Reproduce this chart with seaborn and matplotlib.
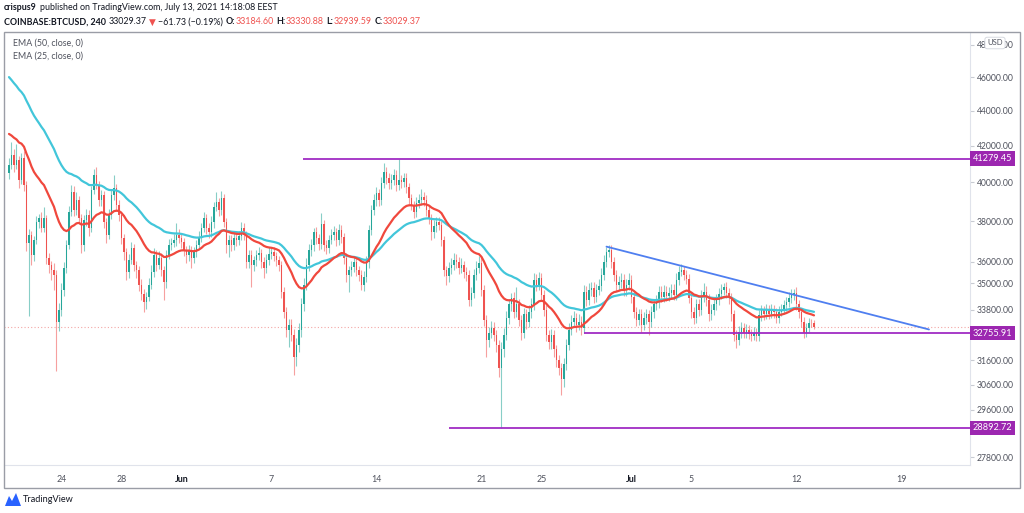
import numpy as np
import pandas as pd
import matplotlib
matplotlib.use('Agg')
import matplotlib.pyplot as plt
import matplotlib.dates as mdates
from matplotlib.ticker import FixedLocator, NullLocator, FuncFormatter
from matplotlib.patches import Rectangle, Polygon
import seaborn as sns

# COINBASE:BTCUSD 4h candles
first_candle = '2021-05-20 12:00'
first_open = 40500

closes = [
    40940, 41490, 40940,                                  # May 20
    41210, 40130, 41320, 39870, 36930, 37320,             # May 21
    36350, 37080, 37970, 38170, 37670, 38170,             # May 22
    36210, 35870, 35630, 35400, 33260, 33800,             # May 23
    34700, 35730, 36830, 38470, 39500, 38570,             # May 24
    39090, 38170, 36830, 38070, 38320, 37670,             # May 25
    39610, 40400, 39870, 39090, 39350, 37970,             # May 26
    37320, 38320, 39350, 39710, 38830, 38320,             # May 27
    37180, 36490, 35540, 36110, 36690, 35870,             # May 28
    35630, 34930, 34520, 34120, 34390, 34930,             # May 29
    35540, 36350, 35870, 36210, 35630, 35070,             # May 30
    36350, 36830, 36930, 37080, 37320, 37180,             # May 31
    36980, 36590, 36350, 36590, 36210, 36490,             # Jun 1
    36830, 37230, 37670, 38170, 37670, 37470,             # Jun 2
    37970, 38730, 38990, 38570, 39200, 37970,             # Jun 3
    36830, 37080, 36830, 37180, 37080, 37270,             # Jun 4
    37670, 37320, 36020, 36350, 35870, 36110,             # Jun 5
    36350, 36440, 36020, 35730, 36110, 36400,             # Jun 6
    36490, 36300, 36110, 35870, 34610, 33710,             # Jun 7
    32910, 33130, 32700, 31760, 32270, 32910,             # Jun 8
    34030, 34930, 35870, 36590, 36830, 37470,             # Jun 9
    37180, 36880, 37870, 36830, 36690, 37080,             # Jun 10
    37320, 37470, 37080, 37570, 37230, 36210,             # Jun 11
    35400, 35630, 35780, 36020, 35630, 35400,             # Jun 12
    34930, 35310, 36020, 37570, 38570, 39090,             # Jun 13
    39450, 39090, 39970, 40560, 40240, 39970,             # Jun 14
    40130, 40400, 39870, 40130, 40020, 40240,             # Jun 15
    39770, 39200, 38830, 38470, 38940, 39090,             # Jun 16
    39250, 39090, 38570, 38170, 37470, 37770,             # Jun 17
    37970, 37820, 37080, 35630, 35350, 35730,             # Jun 18
    35870, 36110, 36020, 35730, 35870, 35540,             # Jun 19
    35400, 34250, 34570, 35400, 35730, 35970,             # Jun 20
    34700, 33350, 32480, 32780, 33000, 32700,             # Jun 21
    32270, 31300, 32060, 32700, 33440, 34030,             # Jun 22
    34340, 33710, 34030, 33350, 32780, 33580,             # Jun 23
    33260, 33710, 34030, 35170, 34930, 35260,             # Jun 24
    34480, 33800, 32700, 32390, 32700, 32060,             # Jun 25
    31630, 31300, 30810, 31430, 32270, 32910,             # Jun 26
    33260, 33440, 33130, 33260, 33000, 34610,             # Jun 27
    34250, 34700, 34790, 34390, 34700, 34890,             # Jun 28
    35400, 36020, 36490, 36590, 36020, 35400,             # Jun 29
    34930, 35070, 35170, 34700, 34930, 35170,             # Jun 30
    34390, 33710, 33350, 33580, 33130, 33440,             # Jul 1
    33580, 33260, 33710, 34030, 34160, 34610,             # Jul 2
    34390, 34610, 34430, 34570, 34700, 34480,             # Jul 3
    35170, 35540, 35630, 35400, 35220, 34340,             # Jul 4
    33710, 33440, 34030, 33800, 34390, 34610,             # Jul 5
    34250, 33580, 33800, 34030, 34250, 34520,             # Jul 6
    34700, 34840, 34570, 34340, 33580, 32700,             # Jul 7
    32480, 32820, 33000, 32780, 32910, 32740,             # Jul 8
    32650, 32780, 32650, 33540, 33760, 33580,             # Jul 9
    33800, 33620, 33800, 33670, 33440, 33710,             # Jul 10
    33800, 33990, 34120, 34340, 34480, 34570,             # Jul 11
    34030, 33670, 33260, 32780, 33000, 33220,             # Jul 12
    33184.60, 33029.37,                                   # Jul 13
]

# wick length above / below the body, USD
upper_wicks = [
    400, 700, 300,
    900, 200, 300, 400, 200, 300,
    200, 200, 300, 200, 300, 560,
    150, 200, 200, 300, 200, 300,
    300, 250, 250, 300, 370, 300,
    400, 200, 200, 250, 300, 250,
    200, 300, 430, 200, 250, 200,
    200, 300, 250, 690, 200, 250,
    200, 200, 200, 250, 300, 200,
    200, 200, 250, 200, 200, 300,
    300, 300, 250, 300, 200, 200,
    250, 300, 250, 300, 600, 300,
    200, 200, 200, 250, 200, 250,
    250, 300, 250, 300, 200, 250,
    300, 250, 510, 200, 350, 200,
    200, 250, 250, 250, 200, 250,
    300, 250, 200, 250, 250, 200,
    250, 300, 200, 200, 250, 300,
    250, 250, 200, 200, 200, 200,
    200, 250, 250, 250, 300, 300,
    300, 300, 300, 300, 300, 200,
    250, 200, 550, 200, 250, 250,
    300, 300, 200, 300, 250, 200,
    200, 200, 250, 250, 200, 200,
    200, 250, 250, 250, 250, 300,
    300, 200, 300, 490, 250, 250,
    300, 300, 250, 1149.45, 250, 250,
    250, 200, 200, 200, 300, 300,
    400, 250, 250, 200, 200, 300,
    250, 250, 200, 200, 200, 250,
    300, 300, 250, 200, 300, 200,
    200, 200, 250, 250, 300, 300,
    250, 200, 200, 250, 300, 250,
    200, 200, 300, 300, 300, 250,
    230, 250, 810, 250, 200, 300,
    250, 300, 300, 300, 250, 280,
    200, 200, 200, 200, 250, 200,
    200, 200, 200, 250, 250, 300,
    300, 300, 200, 320, 250, 300,
    250, 300, 250, 250, 250, 300,
    300, 300, 250, 240, 250, 200,
    200, 250, 300, 250, 250, 300,
    200, 200, 200, 250, 250, 250,
    250, 200, 250, 250, 300, 250,
    250, 300, 250, 250, 250, 250,
    300, 250, 250, 200, 200, 200,
    200, 200, 250, 250, 300, 420,
    250, 250, 250, 250, 250, 250,
    250, 150, 200, 200, 200, 200,
    200, 250, 250, 200, 250, 200,
    200, 250, 200, 250, 250, 200,
    250, 200, 250, 200, 200, 250,
    250, 250, 250, 250, 250, 150,
    250, 200, 200, 200, 200, 200,
    150, 146.28,
]

lower_wicks = [
    300, 200, 400,
    200, 400, 200, 300, 400, 3430,
    500, 300, 200, 300, 200, 200,
    300, 400, 500, 700, 2120, 400,
    300, 300, 250, 200, 200, 300,
    250, 300, 400, 300, 300, 400,
    200, 200, 200, 300, 300, 300,
    400, 200, 200, 250, 300, 300,
    300, 400, 400, 300, 200, 300,
    400, 300, 300, 410, 300, 200,
    200, 250, 300, 200, 300, 820,
    300, 200, 250, 200, 300, 250,
    300, 300, 400, 300, 480, 250,
    250, 200, 250, 200, 300, 300,
    250, 300, 200, 300, 250, 250,
    400, 570, 300, 250, 300, 250,
    200, 250, 300, 300, 1030, 300,
    300, 250, 300, 470, 250, 250,
    250, 250, 300, 300, 300, 300,
    300, 760, 300, 750, 400, 300,
    300, 300, 250, 300, 300, 300,
    300, 300, 250, 300, 300, 250,
    200, 250, 300, 250, 300, 300,
    350, 790, 300, 250, 300, 300,
    250, 300, 250, 300, 250, 250,
    300, 300, 250, 250, 300, 300,
    300, 250, 300, 250, 300, 250,
    300, 300, 250, 300, 250, 250,
    250, 300, 300, 300, 400, 300,
    300, 250, 300, 300, 420, 300,
    300, 250, 300, 300, 250, 300,
    300, 300, 300, 250, 250, 250,
    300, 300, 720, 300, 250, 300,
    300, 400, 2407.28, 300, 250, 300,
    300, 300, 250, 300, 300, 250,
    300, 250, 300, 250, 300, 250,
    300, 300, 300, 300, 300, 300,
    300, 300, 610, 300, 250, 250,
    250, 250, 300, 250, 300, 250,
    300, 250, 300, 300, 250, 250,
    250, 250, 250, 250, 300, 300,
    300, 250, 300, 300, 300, 250,
    300, 300, 300, 250, 300, 250,
    300, 560, 250, 300, 250, 300,
    250, 250, 250, 250, 300, 250,
    250, 250, 200, 250, 250, 250,
    300, 300, 250, 300, 250, 250,
    300, 300, 250, 250, 250, 250,
    250, 250, 250, 300, 300, 300,
    370, 250, 250, 250, 250, 250,
    250, 200, 250, 250, 250, 250,
    200, 250, 200, 250, 250, 250,
    200, 200, 250, 200, 250, 250,
    250, 250, 250, 250, 200, 200,
    150, 89.78,
]

# EMA values at the left edge of the chart
ema50_start = 46200
ema25_start = 42800

# drawn levels and trend line
levels = [41279.45, 32755.91, 28892.72]
level_starts = ['2021-06-09 02:00', '2021-06-27 20:00', '2021-06-18 20:00']
trend_dates = ['2021-06-29 08:00', '2021-07-20 20:00']
trend_prices = [36740, 32920]
last_price = 33029.37

price_ticks = [48000, 46000, 44000, 42000, 40000, 38000, 36000, 35000,
               33800, 31600, 30600, 29600, 28800, 27800]
date_ticks = ['2021-05-24', '2021-05-28', '2021-06-01', '2021-06-07', '2021-06-14',
              '2021-06-21', '2021-06-25', '2021-07-01', '2021-07-05', '2021-07-12',
              '2021-07-19']
date_labels = ['24', '28', 'Jun', '7', '14', '21', '25', 'Jul', '5', '12', '19']

GREEN = '#26a69a'
RED = '#ef5350'
PURPLE = '#a02cc4'
DARK = '#131722'
GREY = '#50535e'

sns.set_style('white')
plt.rcParams['font.family'] = ['Lato', 'DejaVu Sans']

W, H = 1024, 513
fig = plt.figure(figsize=(W / 100, H / 100), dpi=100)
ax = fig.add_axes([4 / W, 1 - 465 / H, (970 - 4) / W, (465 - 32) / H])
ax.set_yscale('log')

t = pd.date_range(first_candle, periods=len(closes), freq='4h')
x = mdates.date2num(t)
c = np.array(closes, dtype=float)
o = np.r_[first_open, c[:-1]]
hi = np.maximum(o, c) + np.array(upper_wicks)
lo = np.minimum(o, c) - np.array(lower_wicks)
cols = np.where(c >= o, GREEN, RED)

# candles
ax.vlines(x, lo, hi, colors=cols, linewidth=0.8, alpha=0.55, zorder=2)
ax.bar(x, np.abs(c - o), bottom=np.minimum(o, c), width=0.1, color=cols,
       linewidth=0, zorder=3)

# moving averages
ema50 = pd.Series([ema50_start] + closes).ewm(span=50, adjust=False).mean().iloc[1:].values
ema25 = pd.Series([ema25_start] + closes).ewm(span=25, adjust=False).mean().iloc[1:].values
sns.lineplot(x=x, y=ema50, ax=ax, color='#42c6da', linewidth=1.6, zorder=4)
sns.lineplot(x=x, y=ema25, ax=ax, color='#f0483d', linewidth=1.6, zorder=5)

x_origin = mdates.date2num(pd.Timestamp('2021-05-24'))
x_left, x_right = x_origin - 3.833, x_origin + 60.567
ax.set_xlim(x_left, x_right)
ax.set_ylim(27508, 48827)

# current price line
ax.axhline(last_price, color='#f4a6a5', linestyle=(0, (1, 2)), linewidth=0.8, zorder=1)

# levels with price labels
for lv, st in zip(levels, level_starts):
    ax.hlines(lv, mdates.date2num(pd.Timestamp(st)), x_right, color=PURPLE,
              linewidth=1.3, zorder=6)
    ax.text(1.003, lv, f'{lv:.2f}', transform=ax.get_yaxis_transform(),
            color='white', fontsize=6.6, va='center', ha='left', zorder=10,
            clip_on=False,
            bbox=dict(boxstyle='square,pad=0.3', fc='#9c27b0', ec='none'))

# descending trend line
ax.plot(mdates.date2num(pd.to_datetime(trend_dates)), trend_prices,
        color='#4f7ff0', linewidth=1.3, zorder=6)

# axes styling
ax.yaxis.tick_right()
ax.yaxis.set_major_locator(FixedLocator(price_ticks))
ax.yaxis.set_minor_locator(NullLocator())
ax.yaxis.set_major_formatter(FuncFormatter(lambda v, p: f'{v:.2f}'))
ax.tick_params(axis='y', length=3, width=0.8, color='#c8cbd2', labelsize=6.2,
               labelcolor=GREY, pad=2)
ax.set_xticks(mdates.date2num(pd.to_datetime(date_ticks)))
ax.set_xticklabels(date_labels)
ax.xaxis.set_minor_locator(NullLocator())
ax.tick_params(axis='x', length=3, width=0.8, color='#c8cbd2', labelsize=6.4,
               labelcolor=GREY, pad=4)
for lbl in ax.get_xticklabels():
    if lbl.get_text() in ('Jun', 'Jul'):
        lbl.set_fontweight('bold')
        lbl.set_color(DARK)
ax.set_xlabel('')
ax.set_ylabel('')
for side in ('left', 'top'):
    ax.spines[side].set_visible(False)
for side in ('right', 'bottom'):
    ax.spines[side].set_color('#e0e3eb')
    ax.spines[side].set_linewidth(0.8)

# outer frame
fig.add_artist(Rectangle((4 / W, 1 - 488 / H), (1020 - 4) / W, (488 - 32) / H,
                         transform=fig.transFigure, fill=False,
                         edgecolor='#9a9da6', linewidth=1.0))

# USD box on price axis
fig.text(995 / W, 1 - 43 / H, 'USD', fontsize=5.5, color=GREY, ha='center',
         va='center', zorder=12,
         bbox=dict(boxstyle='round,pad=0.3', fc='white', ec='#d1d4dc', lw=0.6))

# legend entries
fig.text(13 / W, 1 - 43 / H, 'EMA (50, close, 0)', fontsize=6.4, color=GREY, va='center')
fig.text(13 / W, 1 - 56 / H, 'EMA (25, close, 0)', fontsize=6.4, color=GREY, va='center')


# header rows
def header_row(y_px, parts, size):
    r = fig.canvas.get_renderer()
    x_px = 4
    for s, col, wt, gap in parts:
        txt = fig.text(x_px / W, 1 - y_px / H, s, color=col, fontweight=wt,
                       fontsize=size, va='center', ha='left')
        x_px += txt.get_window_extent(renderer=r).width + gap


header_row(8, [('crispus9', DARK, 'bold', 3),
               ('published on TradingView.com, July 13, 2021 14:18:08 EEST', DARK, 'normal', 0)], 6.4)
header_row(22, [('COINBASE:BTCUSD, 240', DARK, 'bold', 3),
                ('33029.37', DARK, 'normal', 2),
                ('▼', RED, 'normal', 2),
                ('\u221261.73 (\u22120.19%)', DARK, 'normal', 3),
                ('O:', DARK, 'bold', 0), ('33184.60', RED, 'normal', 3),
                ('H:', DARK, 'bold', 0), ('33330.88', RED, 'normal', 3),
                ('L:', DARK, 'bold', 0), ('32939.59', RED, 'normal', 3),
                ('C:', DARK, 'bold', 0), ('33029.37', RED, 'normal', 0)], 6.4)

# TradingView mark
icon = [(5, 506), (9, 496), (12, 501), (16, 493), (21, 506)]
fig.add_artist(Polygon([(px / W, 1 - py / H) for px, py in icon], closed=True,
                       transform=fig.transFigure, fc='#2962ff', ec='none'))
fig.text(23 / W, 1 - 500 / H, 'TradingView', fontsize=6.6, color=DARK, va='center')

fig.savefig('out.png', dpi=100, facecolor='white')
